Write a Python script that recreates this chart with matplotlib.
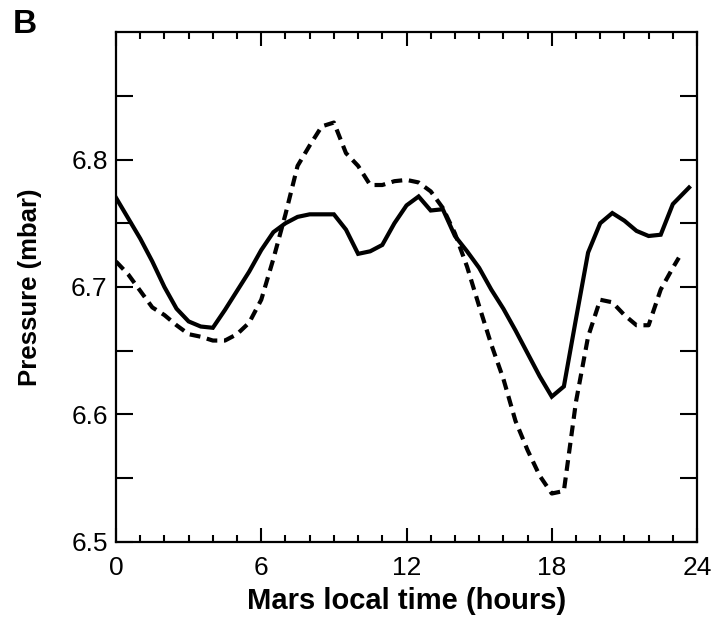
import matplotlib
matplotlib.use("Agg")
import matplotlib.pyplot as plt
from matplotlib.ticker import MultipleLocator, FixedLocator

# Data (Mars local time in hours, pressure in mbar)
t_solid = [0.0, 0.5, 1.0, 1.5, 2.0, 2.5, 3.0, 3.5, 4.0, 4.5, 5.0, 5.5,
           6.0, 6.5, 7.0, 7.5, 8.0, 8.5, 9.0, 9.5, 10.0, 10.5, 11.0, 11.5,
           12.0, 12.5, 13.0, 13.5, 14.0, 14.5, 15.0, 15.5, 16.0, 16.5, 17.0, 17.5,
           18.0, 18.5, 19.0, 19.5, 20.0, 20.5, 21.0, 21.5, 22.0, 22.5, 23.0, 23.67]
p_solid = [6.770, 6.754, 6.738, 6.720, 6.700, 6.683, 6.673, 6.669, 6.668, 6.682, 6.697, 6.712,
           6.729, 6.743, 6.750, 6.755, 6.757, 6.757, 6.757, 6.745, 6.726, 6.728, 6.733, 6.750,
           6.764, 6.771, 6.760, 6.761, 6.740, 6.728, 6.715, 6.698, 6.683, 6.666, 6.648, 6.630,
           6.614, 6.622, 6.675, 6.727, 6.750, 6.758, 6.752, 6.744, 6.740, 6.741, 6.765, 6.778]

t_dashed = [0.0, 0.5, 1.0, 1.5, 2.0, 2.5, 3.0, 3.5, 4.0, 4.5, 5.0, 5.5,
            6.0, 6.5, 7.0, 7.5, 8.0, 8.5, 9.0, 9.5, 10.0, 10.5, 11.0, 11.5,
            12.0, 12.5, 13.0, 13.5, 14.0, 14.5, 15.0, 15.5, 16.0, 16.5, 17.0, 17.5,
            18.0, 18.5, 19.0, 19.5, 20.0, 20.5, 21.0, 21.5, 22.0, 22.5, 23.0, 23.25]
p_dashed = [6.720, 6.710, 6.697, 6.684, 6.678, 6.670, 6.663, 6.661, 6.658, 6.658, 6.663, 6.672,
            6.690, 6.722, 6.757, 6.795, 6.811, 6.826, 6.829, 6.805, 6.795, 6.780, 6.780, 6.783,
            6.784, 6.782, 6.775, 6.762, 6.742, 6.716, 6.685, 6.655, 6.628, 6.595, 6.572, 6.552,
            6.538, 6.540, 6.610, 6.661, 6.690, 6.688, 6.678, 6.670, 6.670, 6.698, 6.715, 6.723]

x_major = [0, 6, 12, 18, 24]
y_labels = [6.5, 6.6, 6.7, 6.8]

plt.rcParams['font.family'] = ['Liberation Sans', 'DejaVu Sans']

fig = plt.figure(figsize=(7.13, 6.17), dpi=100)
ax = fig.add_axes([0.1627, 0.1216, 0.8149, 0.8265])

ax.plot(t_solid, p_solid, color='black', lw=3.0, solid_joinstyle='miter')
ax.plot(t_dashed, p_dashed, color='black', lw=3.0, dashes=(2.6, 1.6))

ax.set_xlim(0, 24)
ax.set_ylim(6.5, 6.9)

ax.xaxis.set_major_locator(FixedLocator(x_major))
ax.xaxis.set_minor_locator(MultipleLocator(1))
ax.yaxis.set_major_locator(FixedLocator(y_labels))
ax.yaxis.set_minor_locator(FixedLocator([6.55, 6.65, 6.75, 6.85]))
ax.set_xticklabels([str(v) for v in x_major])
ax.set_yticklabels([f"{v:.1f}" for v in y_labels])

ax.tick_params(axis='both', which='both', direction='in', top=True, right=True,
               width=1.5, labelsize=19)
ax.tick_params(axis='x', which='major', length=10, pad=10)
ax.tick_params(axis='x', which='minor', length=5)
ax.tick_params(axis='y', which='both', length=12, pad=6)

for s in ax.spines.values():
    s.set_linewidth(1.6)

ax.set_xlabel('Mars local time (hours)', fontsize=21, fontweight='bold', labelpad=5)
ax.set_ylabel('Pressure (mbar)', fontsize=18.5, fontweight='bold', labelpad=21)

fig.text(0.018, 0.961, 'B', fontsize=24, fontweight='bold', ha='left', va='center')

fig.savefig('out.png', dpi=100)
